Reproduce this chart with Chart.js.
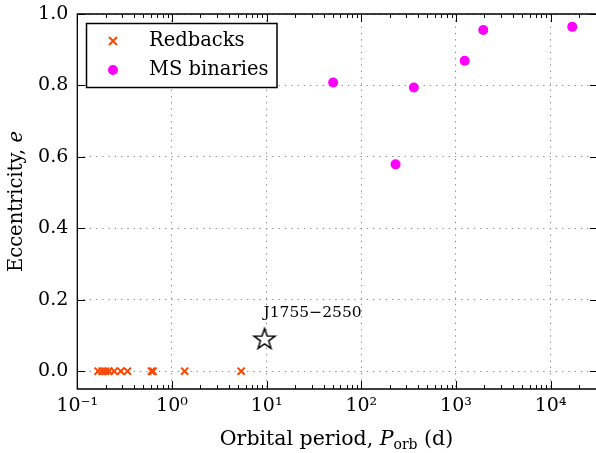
<!DOCTYPE html>
<html>
<head>
<meta charset="utf-8">
<script src="https://cdn.jsdelivr.net/npm/chart.js@4.4.1/dist/chart.umd.min.js"></script>
<style>
  body { margin: 0; background: #fff; }
  #wrap { width: 596px; height: 453px; overflow: hidden; }
</style>
</head>
<body>
<div id="wrap"><canvas id="chart" width="605" height="453"></canvas></div>
<script>
// values
const redbackPeriod = [0.166, 0.183, 0.199, 0.216, 0.245, 0.288, 0.339, 0.607, 0.631, 1.36, 5.38];
const redbackEcc = [0, 0, 0, 0, 0, 0, 0, 0, 0, 0, 0];
const msPeriod = [50.4, 230, 359, 1236, 1941, 16900];
const msEcc = [0.808, 0.579, 0.794, 0.869, 0.955, 0.964];
const psrPeriod = [9.5];
const psrEcc = [0.09];
const psrName = "J1755\u22122550";

const xTickValues = [0.1, 1, 10, 100, 1000, 10000];
const xTickLabels = ["10\u207B\u00B9", "10\u2070", "10\u00B9", "10\u00B2", "10\u00B3", "10\u2074"];
const yTickValues = [0, 0.2, 0.4, 0.6, 0.8, 1.0];

const SERIF = "'DejaVu Serif', serif";

// open star marker
function makeStar() {
  const c = document.createElement("canvas");
  c.width = 26;
  c.height = 26;
  const g = c.getContext("2d");
  g.beginPath();
  for (let i = 0; i < 10; i++) {
    const r = i % 2 === 0 ? 11 : 4.4;
    const a = -Math.PI / 2 + (i * Math.PI) / 5;
    const px = 13 + r * Math.cos(a);
    const py = 13.5 + r * Math.sin(a);
    if (i === 0) g.moveTo(px, py);
    else g.lineTo(px, py);
  }
  g.closePath();
  g.fillStyle = "#fff";
  g.fill();
  g.lineWidth = 1.5;
  g.strokeStyle = "#000";
  g.stroke();
  return c;
}

function toPoints(xs, ys) {
  return xs.map((x, i) => ({ x: x, y: ys[i] }));
}

// frame, inward ticks, legend, labels
const decorPlugin = {
  id: "decor",
  afterDraw(chart) {
    const ctx = chart.ctx;
    const a = chart.chartArea;
    const xs = chart.scales.x;
    const ys = chart.scales.y;
    ctx.save();
    ctx.setLineDash([]);
    // keep the cropped right side open
    ctx.fillStyle = "#fff";
    ctx.fillRect(a.right - 7, a.top + 1, 20, a.bottom - a.top - 2);

    ctx.strokeStyle = "#000";
    ctx.lineWidth = 1.3;
    ctx.beginPath();
    ctx.moveTo(a.right + 2, a.top);
    ctx.lineTo(a.left, a.top);
    ctx.lineTo(a.left, a.bottom);
    ctx.lineTo(a.right + 2, a.bottom);
    ctx.stroke();

    // x ticks (major + minor), bottom and top
    ctx.lineWidth = 1;
    ctx.beginPath();
    for (let e = -1; e <= 4; e++) {
      for (let m = 1; m <= 9; m++) {
        const v = m * Math.pow(10, e);
        const px = Math.round(xs.getPixelForValue(v)) + 0.5;
        if (px > a.right) continue;
        const len = m === 1 ? 8 : 4;
        ctx.moveTo(px, a.bottom);
        ctx.lineTo(px, a.bottom - len);
        ctx.moveTo(px, a.top);
        ctx.lineTo(px, a.top + len);
      }
    }
    yTickValues.forEach((v) => {
      const py = Math.round(ys.getPixelForValue(v)) + 0.5;
      ctx.moveTo(a.left, py);
      ctx.lineTo(a.left + 8, py);
      ctx.moveTo(a.right, py);
      ctx.lineTo(a.right - 8, py);
    });
    ctx.stroke();

    // annotation next to the pulsar
    const sx = xs.getPixelForValue(psrPeriod[0]);
    const sy = ys.getPixelForValue(psrEcc[0]);
    ctx.fillStyle = "#000";
    ctx.font = "15.5px " + SERIF;
    ctx.textAlign = "left";
    ctx.textBaseline = "alphabetic";
    ctx.fillText(psrName, sx - 1, sy - 22);

    // legend
    const lx = 86.5, ly = 23.5, lw = 190.5, lh = 64;
    ctx.fillStyle = "#fff";
    ctx.fillRect(lx, ly, lw, lh);
    ctx.lineWidth = 1.5;
    ctx.strokeStyle = "#000";
    ctx.strokeRect(lx, ly, lw, lh);
    ctx.strokeStyle = "#FF4500";
    ctx.lineWidth = 2;
    ctx.beginPath();
    ctx.moveTo(109, 37);
    ctx.lineTo(117, 45);
    ctx.moveTo(117, 37);
    ctx.lineTo(109, 45);
    ctx.stroke();
    ctx.fillStyle = "#FF00FF";
    ctx.beginPath();
    ctx.arc(113, 70, 5, 0, Math.PI * 2);
    ctx.fill();
    ctx.fillStyle = "#000";
    ctx.font = "19.5px " + SERIF;
    ctx.textBaseline = "middle";
    ctx.fillText("Redbacks", 149, 41);
    ctx.fillText("MS binaries", 149, 70);

    // x axis title with italic P and subscript
    const parts = [
      { t: "Orbital period, ", f: "20.5px " + SERIF, dy: 0 },
      { t: "P", f: "italic 20.5px " + SERIF, dy: 0 },
      { t: "orb", f: "14px " + SERIF, dy: 4 },
      { t: " (d)", f: "20.5px " + SERIF, dy: 0 },
    ];
    let total = 0;
    parts.forEach((p) => {
      ctx.font = p.f;
      p.w = ctx.measureText(p.t).width;
      total += p.w;
    });
    let cx = 336.5 - total / 2;
    ctx.textBaseline = "alphabetic";
    parts.forEach((p) => {
      ctx.font = p.f;
      ctx.fillText(p.t, cx, 445 + p.dy);
      cx += p.w;
    });

    // y axis title
    ctx.translate(17, (a.top + a.bottom) / 2);
    ctx.rotate(-Math.PI / 2);
    const yp = [
      { t: "Eccentricity, ", f: "19.5px " + SERIF },
      { t: "e", f: "italic 19.5px " + SERIF },
    ];
    total = 0;
    yp.forEach((p) => {
      ctx.font = p.f;
      p.w = ctx.measureText(p.t).width;
      total += p.w;
    });
    cx = -total / 2;
    ctx.textBaseline = "middle";
    yp.forEach((p) => {
      ctx.font = p.f;
      ctx.fillText(p.t, cx, 0);
      cx += p.w;
    });
    ctx.restore();
  },
};

const ctx = document.getElementById("chart").getContext("2d");
const chart = new Chart(ctx, {
  type: "scatter",
  data: {
    datasets: [
      {
        label: "Redbacks",
        data: toPoints(redbackPeriod, redbackEcc),
        pointStyle: "crossRot",
        pointRadius: 5,
        pointBorderWidth: 2,
        borderColor: "#FF4500",
        backgroundColor: "#FF4500",
      },
      {
        label: "MS binaries",
        data: toPoints(msPeriod, msEcc),
        pointStyle: "circle",
        pointRadius: 5,
        pointBorderWidth: 0,
        borderColor: "#FF00FF",
        backgroundColor: "#FF00FF",
      },
      {
        label: psrName,
        data: toPoints(psrPeriod, psrEcc),
        pointStyle: makeStar(),
      },
    ],
  },
  options: {
    responsive: false,
    animation: false,
    devicePixelRatio: 1,
    layout: { padding: { top: 14, right: 0, left: 0, bottom: 0 } },
    plugins: {
      legend: { display: false },
      tooltip: { enabled: false },
    },
    scales: {
      x: {
        type: "logarithmic",
        min: 0.1,
        max: 31623,
        afterBuildTicks: (scale) => {
          scale.ticks = xTickValues.map((v) => ({ value: v }));
        },
        afterFit: (scale) => {
          scale.height = 64;
          scale.paddingLeft = 0;
          scale.paddingRight = 0;
        },
        ticks: {
          autoSkip: false,
          maxRotation: 0,
          padding: 6,
          color: "#000",
          font: { family: SERIF, size: 19 },
          callback: (value) => {
            const i = xTickValues.indexOf(value);
            return i >= 0 ? xTickLabels[i] : "";
          },
        },
        grid: {
          color: "#888",
          lineWidth: 1,
          drawTicks: false,
        },
        border: { display: false, dash: [1.3, 5] },
      },
      y: {
        min: -0.05,
        max: 1.0,
        afterBuildTicks: (scale) => {
          scale.ticks = yTickValues.map((v) => ({ value: v }));
        },
        afterFit: (scale) => {
          scale.width = 77.3;
          scale.paddingTop = 0;
          scale.paddingBottom = 0;
        },
        ticks: {
          padding: 9,
          color: "#000",
          font: { family: SERIF, size: 19 },
          callback: (value) => value.toFixed(1),
        },
        grid: {
          color: "#888",
          lineWidth: 1,
          drawTicks: false,
        },
        border: { display: false, dash: [1.3, 5] },
      },
    },
  },
  plugins: [decorPlugin],
});
</script>
</body>
</html>
